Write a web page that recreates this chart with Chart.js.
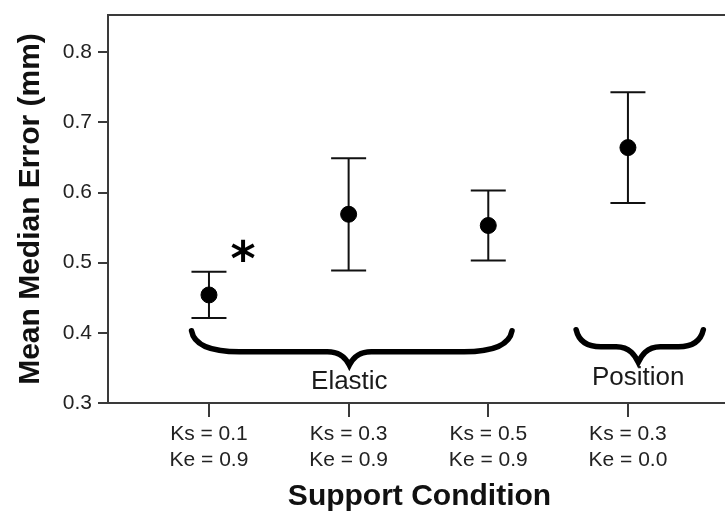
<!DOCTYPE html>
<html>
<head>
<meta charset="utf-8">
<script src="https://cdn.jsdelivr.net/npm/chart.js@4.4.1/dist/chart.umd.min.js"></script>
<style>
  html, body { margin: 0; padding: 0; background: #fff; }
  /* el marco sigue a la derecha, fuera de la vista */
  #wrap { width: 725px; height: 517px; overflow: hidden; }
</style>
</head>
<body>
<div id="wrap"><canvas id="grafica" width="740" height="517"></canvas></div>
<script>
// condiciones de soporte (eje X) y error mediano medio con su intervalo
const conditions = [
  ["Ks = 0.1", "Ke = 0.9"],
  ["Ks = 0.3", "Ke = 0.9"],
  ["Ks = 0.5", "Ke = 0.9"],
  ["Ks = 0.3", "Ke = 0.0"],
];
const meanError = [0.454, 0.569, 0.553, 0.664];
const ciLower = [0.421, 0.489, 0.503, 0.585];
const ciUpper = [0.487, 0.649, 0.603, 0.743];
const yTicks = [0.3, 0.4, 0.5, 0.6, 0.7, 0.8];
const groups = ["Elastic", "Position"];
const marker = "*";

const FONT = "'Liberation Sans', Arial, sans-serif";

// barras de error con remate horizontal
const errorBars = {
  id: "errorBars",
  beforeDatasetsDraw(chart, args, opts) {
    const { ctx, scales: { x, y } } = chart;
    ctx.save();
    ctx.strokeStyle = opts.color;
    ctx.lineWidth = opts.width;
    meanError.forEach((m, i) => {
      const px = x.getPixelForValue(i + 1);
      const top = y.getPixelForValue(ciUpper[i]);
      const bot = y.getPixelForValue(ciLower[i]);
      ctx.beginPath();
      ctx.moveTo(px, top);
      ctx.lineTo(px, bot);
      ctx.moveTo(px - opts.cap, top);
      ctx.lineTo(px + opts.cap, top);
      ctx.moveTo(px - opts.cap, bot);
      ctx.lineTo(px + opts.cap, bot);
      ctx.stroke();
    });
    ctx.restore();
  },
};

// linea superior del marco
const frameTop = {
  id: "frameTop",
  afterDraw(chart) {
    const { ctx, chartArea } = chart;
    ctx.save();
    ctx.strokeStyle = "#3a3a3a";
    ctx.lineWidth = 2;
    ctx.beginPath();
    ctx.moveTo(chartArea.left, chartArea.top);
    ctx.lineTo(chartArea.right, chartArea.top);
    ctx.stroke();
    ctx.restore();
  },
};

// llaves de agrupacion y asterisco
const braces = {
  id: "braces",
  afterDatasetsDraw(chart, args, opts) {
    const { ctx, scales: { x, y } } = chart;
    ctx.save();
    opts.items.forEach((b, i) => {
      const x0 = x.getPixelForValue(b.from);
      const x1 = x.getPixelForValue(b.to);
      const xt = x.getPixelForValue(b.tip);
      const yEnd = y.getPixelForValue(b.yEnd);
      const yFlat = y.getPixelForValue(b.yFlat);
      const yTip = y.getPixelForValue(b.yTip);
      const curl = Math.min(48, (xt - x0) * 0.4);
      ctx.strokeStyle = "#000";
      ctx.lineWidth = 5.5;
      ctx.lineCap = "round";
      ctx.beginPath();
      ctx.moveTo(x0, yEnd);
      ctx.bezierCurveTo(x0 + 3, yFlat - 4, x0 + curl * 0.5, yFlat, x0 + curl, yFlat);
      ctx.lineTo(xt - 22, yFlat);
      ctx.bezierCurveTo(xt - 8, yFlat, xt - 3, yTip - 6, xt, yTip);
      ctx.bezierCurveTo(xt + 3, yTip - 6, xt + 8, yFlat, xt + 22, yFlat);
      ctx.lineTo(x1 - curl, yFlat);
      ctx.bezierCurveTo(x1 - curl * 0.5, yFlat, x1 - 3, yFlat - 4, x1, yEnd);
      ctx.stroke();

      ctx.fillStyle = "#1a1a1a";
      ctx.font = "26px " + FONT;
      ctx.textAlign = "center";
      ctx.textBaseline = "middle";
      ctx.fillText(groups[i], xt, y.getPixelForValue(b.labelY));
    });

    // asterisco centrado por su caja real
    ctx.font = "bold 48px 'DejaVu Sans', sans-serif";
    ctx.fillStyle = "#000";
    ctx.textAlign = "center";
    ctx.textBaseline = "alphabetic";
    const m = ctx.measureText(marker);
    const cx = x.getPixelForValue(opts.star.x);
    const cy = y.getPixelForValue(opts.star.y);
    const base = cy + (m.actualBoundingBoxAscent - m.actualBoundingBoxDescent) / 2;
    ctx.fillText(marker, cx, base);
    ctx.restore();
  },
};

const ctx = document.getElementById("grafica").getContext("2d");
new Chart(ctx, {
  type: "scatter",
  data: {
    datasets: [
      {
        data: meanError.map((v, i) => ({ x: i + 1, y: v })),
        backgroundColor: "#000",
        borderColor: "#000",
        pointRadius: 8,
        pointHoverRadius: 8,
      },
    ],
  },
  options: {
    responsive: false,
    animation: false,
    events: [],
    layout: { padding: { top: 15, right: 0, left: 0, bottom: 0 } },
    scales: {
      x: {
        type: "linear",
        min: 0.277,
        max: 4.738,
        afterBuildTicks: (scale) => {
          scale.ticks = conditions.map((c, i) => ({ value: i + 1 }));
        },
        afterFit: (scale) => {
          scale.height = 114;
          scale.paddingLeft = 0;
          scale.paddingRight = 0;
        },
        ticks: {
          autoSkip: false,
          maxRotation: 0,
          padding: 5,
          color: "#222",
          font: { size: 21, family: FONT, lineHeight: 1.2 },
          callback: (v) => conditions[v - 1] || "",
        },
        grid: {
          drawOnChartArea: false,
          drawTicks: true,
          tickLength: 14,
          tickColor: "#3a3a3a",
          lineWidth: 2,
        },
        border: { display: true, color: "#3a3a3a", width: 2 },
        title: {
          display: true,
          text: "Support Condition",
          color: "#111",
          padding: { top: 0, bottom: 2 },
          font: { size: 30, weight: "bold", family: FONT },
        },
      },
      y: {
        min: 0.3,
        max: 0.853,
        afterBuildTicks: (scale) => {
          scale.ticks = yTicks.map((v) => ({ value: v }));
        },
        afterFit: (scale) => {
          scale.width = 108;
          scale.paddingTop = 0;
          scale.paddingBottom = 0;
        },
        ticks: {
          padding: 6,
          color: "#222",
          font: { size: 21, family: FONT },
          callback: (v) => v.toFixed(1),
        },
        grid: {
          drawOnChartArea: false,
          drawTicks: true,
          tickLength: 10,
          tickColor: "#3a3a3a",
          lineWidth: 2,
        },
        border: { display: true, color: "#3a3a3a", width: 2 },
        title: {
          display: true,
          text: "Mean Median Error (mm)",
          color: "#111",
          padding: { top: 13, bottom: 0 },
          font: { size: 30, weight: "bold", family: FONT },
        },
      },
    },
    plugins: {
      legend: { display: false },
      tooltip: { enabled: false },
      errorBars: { color: "#111", width: 2, cap: 17.5 },
      braces: {
        items: [
          { from: 0.875, to: 3.17, tip: 2.005, yEnd: 0.403, yFlat: 0.373, yTip: 0.354, labelY: 0.330 },
          { from: 3.629, to: 4.54, tip: 4.074, yEnd: 0.4045, yFlat: 0.380, yTip: 0.358, labelY: 0.336 },
        ],
        star: { x: 1.244, y: 0.517 },
      },
    },
  },
  plugins: [errorBars, braces, frameTop],
});
</script>
</body>
</html>
